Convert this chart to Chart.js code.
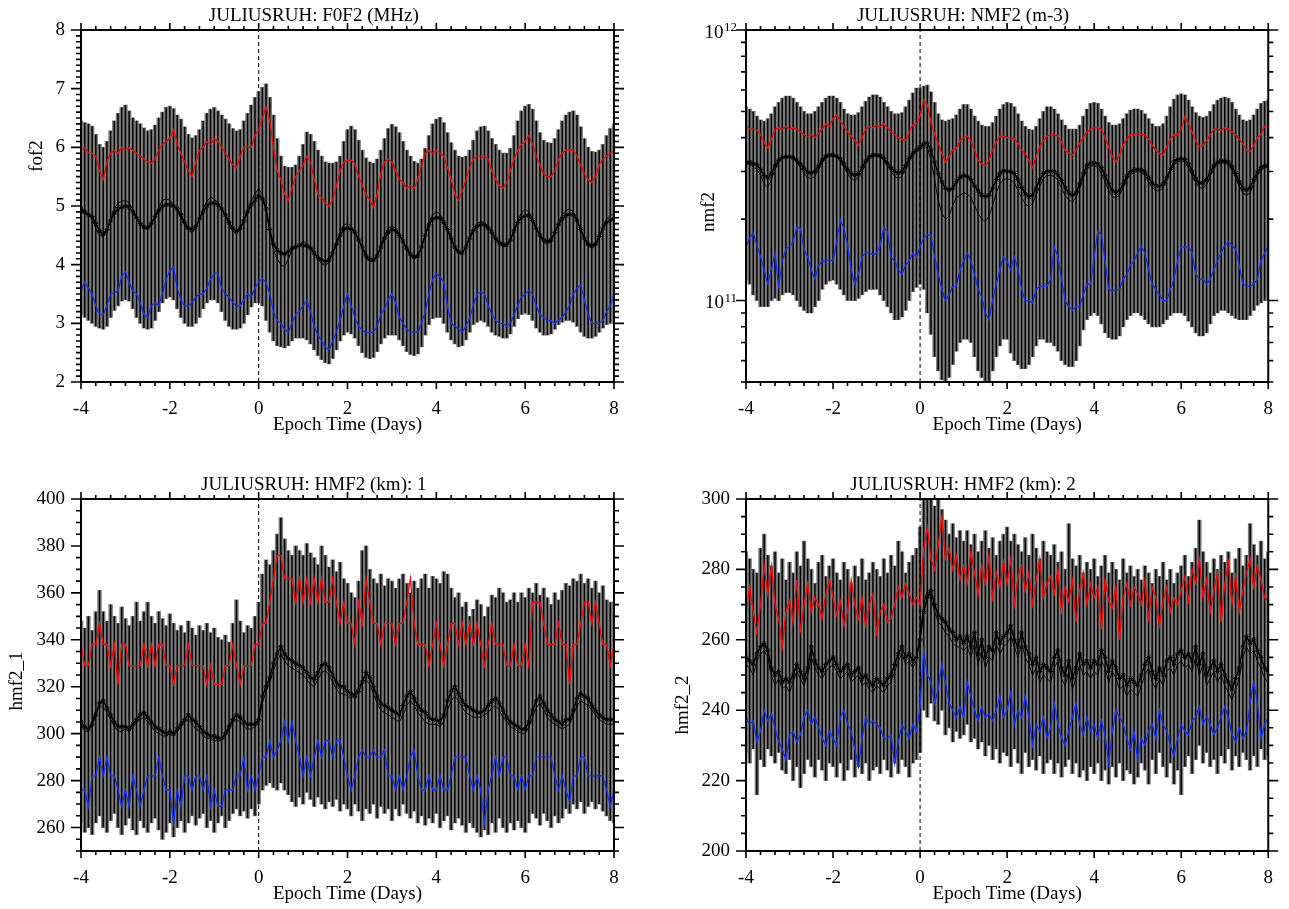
<!DOCTYPE html>
<html>
<head>
<meta charset="utf-8">
<title>Juliusruh superposed epoch</title>
<script src="https://cdn.jsdelivr.net/npm/chart.js@4.4.1/dist/chart.umd.min.js"></script>
<style>
  html, body { margin: 0; padding: 0; background: #fff; }
  #page { position: relative; width: 1289px; height: 909px; overflow: hidden; }
  #page canvas { position: absolute; }
</style>
</head>
<body>
<div id="page">
  <canvas id="c1" width="645" height="455" style="left:0;top:0"></canvas>
  <canvas id="c2" width="644" height="455" style="left:645px;top:0"></canvas>
  <canvas id="c3" width="645" height="454" style="left:0;top:455px"></canvas>
  <canvas id="c4" width="644" height="454" style="left:645px;top:455px"></canvas>
</div>
<script>
// epoch time, 2-hourly steps from day -4 to day +8
const epochDays = Array.from({ length: 145 }, (_, i) => -4 + i / 12);

// ---- foF2 (MHz) ----
const fof2Max = [
  6.45, 6.42, 6.40, 6.36, 6.22, 6.05, 6.00, 6.10, 6.28, 6.45, 6.58, 6.68,
  6.72, 6.62, 6.50, 6.45, 6.40, 6.33, 6.28, 6.30, 6.38, 6.50, 6.60, 6.68,
  6.70, 6.66, 6.55, 6.48, 6.35, 6.22, 6.16, 6.20, 6.30, 6.45, 6.58, 6.65,
  6.68, 6.62, 6.55, 6.48, 6.40, 6.32, 6.28, 6.30, 6.45, 6.58, 6.72, 6.85,
  6.95, 7.02, 7.08, 6.85, 6.55, 6.15, 5.85, 5.68, 5.66, 5.66, 5.70, 5.85,
  6.05, 6.26, 6.22, 6.10, 5.95, 5.85, 5.75, 5.73, 5.73, 5.75, 5.85, 6.10,
  6.30, 6.36, 6.30, 6.12, 5.95, 5.82, 5.75, 5.73, 5.80, 5.95, 6.15, 6.32,
  6.39, 6.35, 6.25, 6.10, 5.95, 5.85, 5.76, 5.73, 5.80, 5.98, 6.20, 6.40,
  6.48, 6.51, 6.42, 6.25, 6.08, 5.95, 5.85, 5.83, 5.85, 5.95, 6.12, 6.28,
  6.35, 6.36, 6.28, 6.15, 6.05, 5.95, 5.90, 5.90, 5.98, 6.20, 6.45, 6.62,
  6.70, 6.73, 6.65, 6.45, 6.25, 6.12, 6.08, 6.07, 6.15, 6.30, 6.45, 6.55,
  6.60, 6.62, 6.55, 6.35, 6.15, 6.00, 5.93, 5.92, 5.95, 6.05, 6.20, 6.32,
  6.39
];
const fof2Upper = [
  5.95, 6.00, 5.90, 5.90, 5.85, 5.60, 5.45, 5.75, 5.90, 5.95, 5.90, 6.00,
  5.95, 6.00, 5.95, 5.90, 5.85, 5.80, 5.75, 5.73, 5.80, 5.95, 6.05, 6.10,
  6.15, 6.30, 6.05, 5.90, 5.75, 5.60, 5.50, 5.75, 5.95, 6.00, 6.10, 6.05,
  6.15, 6.10, 6.00, 5.90, 5.80, 5.70, 5.65, 5.85, 6.00, 6.00, 6.00, 6.20,
  6.30, 6.50, 6.69, 6.45, 6.00, 5.60, 5.45, 5.20, 5.10, 5.30, 5.50, 5.60,
  5.70, 5.85, 5.75, 5.45, 5.20, 5.15, 5.05, 5.00, 5.10, 5.35, 5.60, 5.75,
  5.78, 5.78, 5.72, 5.50, 5.35, 5.20, 5.10, 4.98, 5.20, 5.55, 5.75, 5.80,
  5.75, 5.60, 5.45, 5.40, 5.30, 5.35, 5.30, 5.45, 5.70, 5.90, 5.95, 5.90,
  5.95, 5.90, 5.85, 5.65, 5.45, 5.20, 5.10, 5.25, 5.45, 5.65, 5.80, 5.85,
  5.85, 5.85, 5.80, 5.60, 5.45, 5.35, 5.30, 5.40, 5.60, 5.80, 5.95, 6.05,
  6.10, 6.20, 6.05, 5.85, 5.70, 5.55, 5.50, 5.50, 5.60, 5.80, 5.90, 5.95,
  5.95, 5.95, 5.85, 5.70, 5.55, 5.45, 5.40, 5.50, 5.70, 5.80, 5.85, 5.90,
  5.95
];
const fof2Median = [
  4.95, 4.90, 4.85, 4.82, 4.70, 4.58, 4.52, 4.60, 4.75, 4.88, 4.95, 4.98,
  5.00, 4.98, 4.90, 4.80, 4.70, 4.64, 4.63, 4.70, 4.82, 4.92, 5.00, 5.02,
  5.02, 5.00, 4.95, 4.85, 4.72, 4.62, 4.60, 4.65, 4.78, 4.90, 5.00, 5.05,
  5.05, 5.02, 4.95, 4.85, 4.72, 4.62, 4.57, 4.62, 4.75, 4.90, 5.02, 5.10,
  5.18, 5.12, 4.95, 4.60, 4.35, 4.25, 4.20, 4.18, 4.22, 4.28, 4.30, 4.33,
  4.33, 4.32, 4.28, 4.20, 4.12, 4.08, 4.05, 4.08, 4.20, 4.35, 4.50, 4.60,
  4.63, 4.60, 4.55, 4.42, 4.30, 4.15, 4.10, 4.08, 4.15, 4.30, 4.45, 4.55,
  4.60, 4.58, 4.50, 4.40, 4.28, 4.18, 4.13, 4.15, 4.30, 4.50, 4.68, 4.78,
  4.80, 4.80, 4.72, 4.60, 4.45, 4.30, 4.22, 4.20, 4.30, 4.45, 4.58, 4.65,
  4.69, 4.68, 4.62, 4.55, 4.45, 4.38, 4.35, 4.34, 4.42, 4.58, 4.72, 4.80,
  4.84, 4.83, 4.75, 4.62, 4.50, 4.42, 4.40, 4.42, 4.55, 4.68, 4.78, 4.84,
  4.86, 4.85, 4.75, 4.60, 4.45, 4.35, 4.33, 4.35, 4.48, 4.62, 4.72, 4.76,
  4.78
];
const fof2Mean = [
  4.90, 4.88, 4.86, 4.78, 4.62, 4.50, 4.48, 4.58, 4.78, 4.95, 5.05, 5.08,
  5.10, 5.05, 4.95, 4.82, 4.70, 4.62, 4.60, 4.68, 4.82, 4.98, 5.10, 5.12,
  5.10, 5.02, 4.92, 4.80, 4.68, 4.58, 4.55, 4.62, 4.78, 4.95, 5.08, 5.15,
  5.12, 5.05, 4.95, 4.82, 4.68, 4.58, 4.52, 4.60, 4.75, 4.95, 5.10, 5.20,
  5.30, 5.20, 4.95, 4.55, 4.25, 4.10, 4.00, 3.96, 4.10, 4.25, 4.30, 4.35,
  4.40, 4.36, 4.30, 4.20, 4.10, 4.02, 3.98, 4.05, 4.20, 4.38, 4.55, 4.68,
  4.70, 4.66, 4.56, 4.42, 4.28, 4.12, 4.05, 4.05, 4.15, 4.32, 4.50, 4.62,
  4.66, 4.62, 4.52, 4.40, 4.26, 4.15, 4.10, 4.14, 4.30, 4.52, 4.72, 4.85,
  4.90, 4.86, 4.75, 4.60, 4.42, 4.28, 4.18, 4.20, 4.32, 4.48, 4.62, 4.70,
  4.74, 4.72, 4.65, 4.55, 4.42, 4.35, 4.30, 4.32, 4.42, 4.60, 4.76, 4.88,
  4.95, 4.90, 4.78, 4.62, 4.48, 4.38, 4.35, 4.40, 4.55, 4.72, 4.85, 4.92,
  4.95, 4.90, 4.78, 4.60, 4.42, 4.32, 4.28, 4.32, 4.48, 4.65, 4.78, 4.84,
  4.86
];
const fof2Lower = [
  3.55, 3.70, 3.60, 3.50, 3.30, 3.15, 3.14, 3.30, 3.50, 3.52, 3.55, 3.80,
  3.88, 3.70, 3.55, 3.50, 3.35, 3.15, 3.10, 3.30, 3.35, 3.30, 3.50, 3.75,
  3.90, 3.96, 3.60, 3.40, 3.30, 3.30, 3.35, 3.45, 3.50, 3.50, 3.60, 3.75,
  3.85, 3.85, 3.60, 3.50, 3.45, 3.35, 3.30, 3.30, 3.40, 3.50, 3.45, 3.60,
  3.70, 3.76, 3.70, 3.50, 3.20, 3.05, 3.00, 2.90, 2.85, 3.00, 3.15, 3.20,
  3.30, 3.40, 3.20, 2.95, 2.80, 2.70, 2.60, 2.55, 2.70, 2.85, 3.05, 3.30,
  3.50, 3.30, 3.10, 2.95, 2.88, 2.84, 2.84, 2.85, 2.95, 3.15, 3.25, 3.40,
  3.50, 3.35, 3.10, 3.00, 2.90, 2.85, 2.85, 2.85, 3.00, 3.20, 3.50, 3.75,
  3.85, 3.80, 3.70, 3.30, 3.00, 2.95, 2.90, 2.85, 2.95, 3.10, 3.30, 3.50,
  3.53, 3.50, 3.30, 3.15, 3.05, 3.00, 3.00, 2.95, 3.00, 3.15, 3.30, 3.45,
  3.50, 3.56, 3.50, 3.30, 3.15, 3.10, 3.05, 3.05, 3.00, 3.05, 3.10, 3.20,
  3.30, 3.50, 3.60, 3.65, 3.40, 3.15, 3.00, 3.00, 3.00, 3.05, 3.20, 3.30,
  3.50
];
const fof2Min = [
  3.15, 3.10, 3.05, 3.00, 2.95, 2.92, 2.90, 2.95, 3.10, 3.22, 3.30, 3.38,
  3.40, 3.38, 3.25, 3.10, 3.00, 2.92, 2.90, 2.92, 3.05, 3.20, 3.35, 3.42,
  3.45, 3.40, 3.25, 3.10, 3.00, 2.95, 2.95, 3.00, 3.10, 3.25, 3.35, 3.40,
  3.40, 3.35, 3.20, 3.05, 2.95, 2.90, 2.90, 2.92, 3.00, 3.15, 3.28, 3.35,
  3.35, 3.30, 3.05, 2.85, 2.70, 2.62, 2.60, 2.58, 2.62, 2.70, 2.75, 2.75,
  2.75, 2.72, 2.65, 2.55, 2.45, 2.38, 2.33, 2.31, 2.40, 2.55, 2.70, 2.80,
  2.85, 2.82, 2.75, 2.62, 2.50, 2.42, 2.40, 2.42, 2.52, 2.65, 2.75, 2.80,
  2.80, 2.80, 2.72, 2.62, 2.52, 2.47, 2.45, 2.48, 2.60, 2.80, 2.98, 3.08,
  3.10, 3.10, 3.00, 2.85, 2.72, 2.65, 2.60, 2.62, 2.72, 2.85, 2.98, 3.02,
  3.05, 3.02, 2.95, 2.85, 2.80, 2.78, 2.75, 2.75, 2.82, 2.95, 3.08, 3.15,
  3.17, 3.15, 3.05, 2.92, 2.85, 2.80, 2.80, 2.82, 2.90, 2.98, 3.02, 3.05,
  3.05, 3.02, 2.95, 2.85, 2.78, 2.75, 2.75, 2.78, 2.85, 2.92, 2.98, 3.00,
  3.00
];

// ---- NmF2, in units of 1e11 m-3 ----
const nmf2Max = [
  5.20, 5.10, 5.00, 4.80, 4.65, 4.60, 4.70, 4.90, 5.20, 5.40, 5.60, 5.70,
  5.70, 5.60, 5.40, 5.20, 5.00, 4.90, 4.90, 5.00, 5.20, 5.40, 5.60, 5.70,
  5.70, 5.60, 5.40, 5.10, 4.90, 4.85, 4.85, 4.95, 5.20, 5.45, 5.65, 5.75,
  5.75, 5.65, 5.40, 5.20, 5.00, 4.90, 4.90, 4.95, 5.20, 5.50, 5.85, 6.10,
  6.10, 6.20, 6.25, 5.90, 5.40, 4.90, 4.65, 4.60, 4.65, 4.70, 4.85, 5.10,
  5.30, 5.30, 5.10, 4.80, 4.60, 4.45, 4.40, 4.40, 4.55, 4.80, 5.10, 5.30,
  5.40, 5.35, 5.20, 4.90, 4.60, 4.40, 4.30, 4.27, 4.40, 4.70, 5.00, 5.20,
  5.20, 5.10, 4.90, 4.65, 4.45, 4.30, 4.30, 4.30, 4.45, 4.80, 5.10, 5.35,
  5.40, 5.35, 5.10, 4.80, 4.55, 4.45, 4.45, 4.50, 4.70, 4.90, 5.05, 5.10,
  5.10, 5.05, 4.90, 4.70, 4.50, 4.40, 4.40, 4.50, 4.80, 5.20, 5.55, 5.75,
  5.80, 5.75, 5.50, 5.20, 4.95, 4.80, 4.75, 4.80, 5.00, 5.30, 5.50, 5.60,
  5.65, 5.60, 5.40, 5.10, 4.85, 4.65, 4.60, 4.65, 4.85, 5.10, 5.35, 5.45,
  5.50
];
const nmf2Upper = [
  4.45, 4.30, 4.30, 4.27, 4.10, 3.85, 3.66, 3.95, 4.30, 4.35, 4.30, 4.40,
  4.30, 4.35, 4.30, 4.20, 4.10, 4.05, 4.10, 4.00, 4.15, 4.30, 4.50, 4.40,
  4.70, 4.85, 4.60, 4.40, 4.20, 4.05, 3.90, 3.75, 4.00, 4.30, 4.40, 4.35,
  4.45, 4.40, 4.50, 4.35, 4.20, 4.10, 4.00, 3.95, 3.90, 4.20, 4.45, 4.50,
  4.80, 5.50, 5.30, 4.60, 4.10, 3.80, 3.50, 3.25, 3.40, 3.60, 3.65, 3.90,
  4.00, 4.05, 3.90, 3.60, 3.30, 3.20, 3.15, 3.30, 3.60, 3.85, 4.05, 4.05,
  4.00, 4.00, 3.95, 3.80, 3.60, 3.50, 3.30, 3.10, 3.40, 3.70, 3.90, 4.05,
  4.10, 4.10, 4.05, 3.85, 3.60, 3.50, 3.45, 3.60, 3.80, 4.00, 4.20, 4.30,
  4.35, 4.35, 4.30, 4.00, 3.70, 3.40, 3.25, 3.45, 3.75, 3.95, 4.10, 4.10,
  4.15, 4.10, 4.10, 3.95, 3.75, 3.60, 3.50, 3.45, 3.70, 3.95, 4.10, 4.10,
  4.30, 4.78, 4.50, 4.20, 3.90, 3.70, 3.75, 3.90, 4.10, 4.30, 4.30, 4.25,
  4.35, 4.30, 4.20, 4.10, 3.95, 3.80, 3.60, 3.55, 3.75, 4.00, 4.10, 4.40,
  4.40
];
const nmf2Median = [
  3.23, 3.25, 3.20, 3.18, 3.05, 2.90, 2.84, 2.95, 3.15, 3.30, 3.38, 3.40,
  3.40, 3.38, 3.30, 3.20, 3.08, 2.98, 2.96, 3.00, 3.15, 3.30, 3.42, 3.45,
  3.45, 3.42, 3.35, 3.20, 3.05, 2.95, 2.90, 2.95, 3.10, 3.28, 3.40, 3.45,
  3.45, 3.43, 3.35, 3.22, 3.10, 3.00, 2.96, 3.00, 3.15, 3.35, 3.50, 3.60,
  3.70, 3.80, 3.82, 3.60, 3.25, 2.95, 2.75, 2.60, 2.56, 2.60, 2.75, 2.85,
  2.90, 2.88, 2.80, 2.65, 2.55, 2.45, 2.42, 2.45, 2.60, 2.80, 2.95, 3.02,
  3.00, 3.00, 2.95, 2.80, 2.62, 2.48, 2.42, 2.45, 2.60, 2.80, 2.95, 3.00,
  3.00, 3.00, 2.92, 2.78, 2.62, 2.50, 2.45, 2.50, 2.70, 2.95, 3.15, 3.23,
  3.23, 3.20, 3.10, 2.90, 2.70, 2.55, 2.50, 2.55, 2.70, 2.88, 3.00, 3.05,
  3.05, 3.05, 2.98, 2.85, 2.72, 2.65, 2.65, 2.70, 2.85, 3.05, 3.25, 3.32,
  3.35, 3.32, 3.20, 3.00, 2.82, 2.72, 2.72, 2.80, 2.98, 3.15, 3.25, 3.28,
  3.28, 3.25, 3.12, 2.95, 2.75, 2.60, 2.56, 2.62, 2.80, 2.98, 3.10, 3.15,
  3.17
];
const nmf2Mean = [
  3.20, 3.20, 3.12, 3.05, 2.90, 2.70, 2.62, 2.80, 3.05, 3.25, 3.35, 3.38,
  3.38, 3.35, 3.25, 3.10, 2.95, 2.85, 2.82, 2.88, 3.05, 3.25, 3.38, 3.42,
  3.42, 3.38, 3.30, 3.12, 2.95, 2.82, 2.78, 2.85, 3.00, 3.20, 3.35, 3.42,
  3.42, 3.40, 3.30, 3.15, 3.00, 2.88, 2.82, 2.88, 3.05, 3.28, 3.45, 3.55,
  3.62, 3.70, 3.68, 3.30, 2.80, 2.35, 2.10, 2.00, 2.05, 2.25, 2.40, 2.45,
  2.50, 2.48, 2.40, 2.25, 2.10, 2.00, 1.96, 2.05, 2.25, 2.50, 2.70, 2.80,
  2.82, 2.80, 2.72, 2.55, 2.40, 2.28, 2.22, 2.28, 2.45, 2.65, 2.82, 2.90,
  2.90, 2.88, 2.78, 2.60, 2.45, 2.35, 2.32, 2.40, 2.60, 2.85, 3.05, 3.15,
  3.15, 3.10, 2.95, 2.75, 2.55, 2.42, 2.40, 2.45, 2.62, 2.80, 2.92, 2.98,
  3.00, 2.98, 2.90, 2.75, 2.62, 2.55, 2.55, 2.60, 2.78, 3.00, 3.18, 3.25,
  3.28, 3.25, 3.10, 2.90, 2.72, 2.62, 2.60, 2.68, 2.88, 3.08, 3.20, 3.22,
  3.22, 3.18, 3.05, 2.85, 2.65, 2.50, 2.45, 2.50, 2.70, 2.90, 3.02, 3.10,
  3.12
];
const nmf2Lower = [
  1.58, 1.70, 1.78, 1.60, 1.45, 1.30, 1.15, 1.30, 1.50, 1.13, 1.40, 1.55,
  1.58, 1.65, 1.87, 1.85, 1.55, 1.45, 1.30, 1.20, 1.35, 1.40, 1.40, 1.42,
  1.40, 1.65, 1.99, 1.85, 1.60, 1.30, 1.15, 1.25, 1.45, 1.50, 1.50, 1.48,
  1.50, 1.60, 1.87, 1.80, 1.45, 1.40, 1.30, 1.25, 1.35, 1.40, 1.50, 1.45,
  1.58, 1.70, 1.75, 1.75, 1.45, 1.25, 1.10, 1.00, 1.05, 1.13, 1.13, 1.30,
  1.40, 1.50, 1.40, 1.25, 1.10, 1.03, 0.90, 0.85, 1.00, 1.15, 1.30, 1.45,
  1.40, 1.30, 1.45, 1.30, 1.10, 1.00, 1.00, 0.98, 1.10, 1.13, 1.13, 1.13,
  1.20, 1.58, 1.45, 1.20, 1.00, 0.95, 0.92, 0.95, 0.95, 1.05, 1.15, 1.15,
  1.45, 1.80, 1.75, 1.40, 1.10, 1.08, 1.10, 1.10, 1.20, 1.25, 1.35, 1.40,
  1.50, 1.58, 1.50, 1.30, 1.15, 1.10, 1.05, 1.00, 1.00, 1.10, 1.20, 1.40,
  1.58, 1.58, 1.58, 1.50, 1.25, 1.20, 1.20, 1.15, 1.20, 1.30, 1.40, 1.50,
  1.60, 1.65, 1.60, 1.55, 1.35, 1.15, 1.13, 1.13, 1.15, 1.20, 1.40, 1.50,
  1.58
];
const nmf2Min = [
  1.20, 1.15, 1.05, 1.00, 0.95, 0.95, 0.95, 1.00, 1.02, 1.00, 1.05, 1.07,
  1.07, 1.05, 1.00, 0.95, 0.92, 0.90, 0.90, 0.95, 1.00, 1.10, 1.15, 1.18,
  1.19, 1.15, 1.10, 1.05, 1.00, 1.00, 1.00, 1.02, 1.05, 1.08, 1.10, 1.10,
  1.10, 1.05, 1.00, 0.95, 0.90, 0.85, 0.85, 0.87, 0.92, 1.00, 1.08, 1.12,
  1.15, 1.10, 0.90, 0.75, 0.62, 0.55, 0.51, 0.50, 0.52, 0.58, 0.65, 0.70,
  0.72, 0.72, 0.70, 0.62, 0.55, 0.52, 0.50, 0.50, 0.55, 0.62, 0.68, 0.72,
  0.72, 0.64, 0.60, 0.58, 0.56, 0.56, 0.58, 0.62, 0.68, 0.72, 0.72, 0.70,
  0.70, 0.68, 0.65, 0.60, 0.58, 0.57, 0.57, 0.60, 0.68, 0.78, 0.85, 0.88,
  0.90, 0.88, 0.82, 0.76, 0.73, 0.72, 0.72, 0.74, 0.80, 0.85, 0.88, 0.90,
  0.90, 0.88, 0.85, 0.82, 0.80, 0.80, 0.80, 0.82, 0.85, 0.88, 0.90, 0.90,
  0.90, 0.88, 0.84, 0.80, 0.76, 0.74, 0.74, 0.76, 0.82, 0.88, 0.90, 0.92,
  0.92, 0.90, 0.88, 0.86, 0.85, 0.85, 0.85, 0.88, 0.92, 0.96, 0.98, 1.00,
  1.00
];

// ---- hmF2 set 1 (km) ----
const hmf1Max = [
  348, 345, 350, 344, 352, 361, 352, 348, 355, 350, 347, 354,
  349, 346, 350, 356, 348, 352, 356, 350, 347, 352, 349, 346,
  351, 347, 344, 346, 343, 348, 345, 342, 346, 344, 347, 343,
  345, 341, 340, 342, 339, 347, 357, 348, 343, 346, 345, 350,
  356, 368, 374, 372, 378, 385, 392, 383, 378, 376, 380, 378,
  376, 381, 377, 375, 372, 380, 376, 371, 374, 369, 373, 366,
  364, 360, 358, 365, 378, 380, 370, 366, 364, 368, 363, 366,
  365, 362, 366, 368, 364, 360, 365, 362, 366, 368, 362, 367,
  366, 364, 369, 368, 362, 358, 360, 354, 356, 350, 353, 357,
  355, 350, 354, 359, 358, 362, 360, 356, 357, 360, 356, 360,
  358, 362, 360, 364, 359, 362, 358, 355, 360, 357, 361, 364,
  363, 366, 365, 368, 364, 366, 362, 365, 360, 363, 357, 356,
  356
];
const hmf1Upper = [
  338, 329, 329, 338, 338, 347, 338, 338, 329, 338, 321, 338,
  338, 329, 329, 329, 329, 338, 329, 338, 329, 338, 338, 329,
  329, 321, 329, 329, 329, 338, 329, 329, 329, 329, 321, 329,
  321, 321, 321, 329, 329, 338, 329, 321, 329, 329, 329, 338,
  338, 347, 347, 356, 366, 376, 376, 366, 366, 366, 356, 366,
  356, 366, 356, 366, 356, 366, 356, 356, 366, 356, 347, 356,
  347, 347, 338, 356, 347, 366, 356, 347, 347, 338, 347, 347,
  347, 338, 347, 347, 356, 366, 347, 338, 338, 338, 329, 338,
  347, 338, 329, 338, 347, 347, 338, 347, 338, 347, 338, 347,
  338, 329, 338, 347, 338, 338, 338, 329, 329, 338, 329, 329,
  338, 329, 356, 356, 356, 347, 338, 338, 338, 347, 338, 338,
  321, 338, 338, 347, 356, 356, 347, 356, 347, 338, 338, 329,
  338
];
const hmf1Median = [
  305, 303, 302, 304, 308, 313, 314, 311, 308, 305, 303, 303,
  303, 302, 304, 306, 308, 309, 307, 305, 303, 302, 301, 300,
  301, 300, 302, 304, 306, 308, 306, 305, 303, 301, 300, 299,
  299, 298, 298, 300, 303, 306, 308, 307, 305, 304, 304, 304,
  306, 316, 320, 324, 330, 334, 337, 334, 332, 331, 330, 329,
  328, 326, 324, 323, 326, 329, 330, 328, 325, 322, 320, 320,
  318, 317, 316, 318, 322, 326, 324, 320, 316, 313, 312, 311,
  310, 309, 308, 312, 316, 318, 315, 312, 310, 309, 307, 306,
  306, 305, 308, 314, 318, 320, 317, 314, 312, 311, 310, 309,
  309, 310, 312, 314, 315, 313, 310, 307, 305, 304, 303, 302,
  302, 305, 310, 314, 316, 313, 310, 308, 306, 305, 304, 306,
  306, 310, 315, 317, 316, 315, 312, 310, 308, 307, 306, 306,
  306
];
const hmf1Mean = [
  304, 301, 301, 305, 310, 312, 311, 309, 306, 303, 301, 301,
  302, 301, 303, 305, 306, 307, 305, 303, 301, 300, 299, 299,
  300, 299, 301, 303, 305, 306, 304, 302, 301, 299, 298, 298,
  297, 297, 297, 299, 302, 305, 306, 305, 303, 302, 302, 303,
  305, 313, 318, 322, 327, 331, 334, 331, 329, 328, 327, 326,
  325, 323, 321, 320, 323, 326, 327, 325, 322, 319, 317, 317,
  316, 315, 317, 320, 322, 323, 321, 317, 313, 310, 309, 308,
  307, 306, 305, 308, 312, 314, 312, 309, 307, 305, 304, 304,
  304, 303, 305, 310, 314, 316, 314, 311, 309, 308, 307, 307,
  307, 308, 309, 311, 312, 310, 307, 305, 303, 302, 301, 300,
  300, 303, 307, 311, 313, 310, 307, 305, 304, 303, 302, 303,
  304, 308, 312, 314, 313, 312, 310, 308, 306, 305, 304, 304,
  304
];
const hmf1Lower = [
  276, 276, 269, 282, 282, 290, 282, 290, 282, 282, 276, 269,
  276, 269, 282, 276, 269, 276, 282, 282, 282, 290, 282, 276,
  276, 262, 276, 269, 282, 282, 276, 282, 282, 276, 282, 269,
  276, 269, 269, 276, 276, 276, 282, 282, 290, 276, 282, 276,
  282, 290, 290, 297, 290, 293, 297, 305, 297, 305, 297, 290,
  282, 290, 282, 290, 297, 290, 297, 297, 290, 297, 297, 290,
  282, 276, 282, 290, 293, 290, 290, 293, 290, 290, 293, 282,
  282, 276, 282, 276, 282, 290, 293, 282, 276, 276, 282, 276,
  276, 282, 276, 276, 282, 290, 290, 290, 290, 282, 276, 282,
  276, 262, 276, 282, 290, 282, 290, 290, 282, 282, 276, 282,
  276, 282, 282, 290, 290, 290, 290, 290, 282, 276, 282, 276,
  271, 282, 282, 290, 290, 282, 282, 282, 282, 282, 276, 269,
  276
];
const hmf1Min = [
  262, 258, 260, 257, 262, 265, 260, 258, 263, 266, 260, 257,
  261, 264, 259, 257, 263, 260, 258, 262, 264, 259, 255, 258,
  262, 256, 260, 263, 258, 262, 265, 261, 264, 266, 260, 263,
  258, 262, 265, 260, 263, 266, 268, 265, 267, 264, 268, 265,
  270, 276, 278, 279, 277, 276, 279, 276, 274, 271, 269, 273,
  270, 275, 272, 269, 273, 270, 268, 271, 269, 272, 267, 270,
  268, 265, 270, 267, 263, 268, 266, 270, 264, 269, 266, 268,
  263, 268, 265, 270, 266, 264, 267, 262, 265, 261, 264, 262,
  266, 260, 263, 265, 259, 262, 264, 261, 258, 262, 260, 258,
  256, 259, 257, 262, 258, 264, 260, 258, 262, 259, 263, 260,
  258, 262, 266, 264, 261, 266, 263, 260, 265, 262, 264, 268,
  266, 270, 268, 271, 266, 269, 271, 268, 270, 267, 265, 263,
  262
];

// ---- hmF2 set 2 (km) ----
const hmf2Max = [
  285, 283, 280, 279, 286, 290, 284, 281, 285, 279, 283, 277,
  282, 279, 285, 281, 288, 283, 280, 276, 282, 284, 278, 281,
  283, 279, 277, 282, 280, 276, 281, 278, 283, 277, 279, 282,
  280, 278, 283, 279, 284, 281, 288, 285, 279, 282, 284, 286,
  292, 302, 300, 303, 298, 301, 297, 294, 290, 293, 289, 291,
  288, 291, 287, 290, 285, 288, 291, 286, 289, 284, 288, 290,
  292, 288, 290, 287, 285, 289, 284, 290, 286, 283, 288, 285,
  284, 287, 282, 285, 280, 293, 283, 281, 284, 279, 282, 280,
  283, 278, 281, 284, 279, 282, 280, 277, 283, 279, 281, 278,
  280, 277, 281, 279, 276, 280, 278, 282, 277, 280, 276, 279,
  281, 284, 278, 282, 286, 294, 285, 282, 279, 283, 280, 284,
  282, 285, 279, 283, 286, 281, 284, 293, 287, 284, 288, 283,
  285
];
const hmf2Upper = [
  267, 275, 268, 262, 270, 281, 273, 281, 270, 266, 258, 268,
  271, 265, 277, 262, 270, 276, 268, 272, 270, 266, 273, 277,
  272, 267, 271, 264, 268, 277, 270, 266, 272, 264, 270, 273,
  262, 268, 270, 265, 266, 270, 275, 272, 276, 273, 270, 272,
  270, 286, 292, 283, 280, 287, 295, 283, 286, 280, 284, 277,
  281, 276, 285, 279, 273, 281, 276, 284, 272, 279, 275, 282,
  276, 283, 270, 278, 281, 274, 279, 270, 277, 283, 272, 276,
  278, 273, 280, 268, 275, 271, 277, 265, 274, 279, 270, 276,
  272, 275, 263, 277, 271, 269, 275, 260, 272, 276, 270, 275,
  273, 270, 277, 266, 275, 272, 264, 271, 275, 268, 272, 270,
  274, 278, 271, 280, 276, 283, 272, 277, 268, 274, 279, 265,
  276, 282, 270, 278, 268, 274, 279, 283, 275, 281, 277, 272,
  271
];
const hmf2Median = [
  255, 254, 253, 256, 258, 259, 257, 252, 250, 251, 248, 249,
  248, 250, 253, 251, 249, 252, 258, 254, 252, 251, 253, 254,
  255, 253, 251, 252, 253, 250, 251, 252, 249, 250, 248, 247,
  249, 248, 247, 249, 250, 253, 256, 258, 255, 256, 254, 255,
  260, 268, 272, 274, 270, 267, 266, 265, 263, 262, 260, 261,
  259, 261, 258, 262, 256, 260, 255, 258, 257, 262, 259, 261,
  262, 264, 260, 258, 262, 258, 256, 253, 255, 251, 253, 252,
  251, 255, 257, 252, 250, 254, 249, 252, 256, 253, 254, 252,
  254, 253, 257, 255, 251, 254, 252, 249, 250, 247, 249, 248,
  247, 250, 253, 255, 251, 249, 252, 250, 254, 255, 253, 256,
  257, 255, 256, 254, 258, 253, 256, 250, 252, 254, 251, 253,
  250, 248, 246, 249, 252, 258, 261, 259, 260, 257, 255, 252,
  251
];
const hmf2Mean = [
  253, 252, 250, 254, 256, 257, 255, 250, 247, 249, 246, 247,
  245, 248, 251, 249, 247, 250, 255, 252, 250, 249, 251, 252,
  253, 251, 249, 250, 251, 248, 249, 250, 247, 248, 246, 245,
  247, 246, 245, 247, 248, 251, 254, 256, 253, 254, 252, 254,
  262, 270, 274, 272, 268, 265, 264, 262, 261, 259, 258, 258,
  257, 258, 255, 259, 253, 257, 252, 255, 254, 259, 256, 258,
  259, 261, 258, 255, 259, 255, 253, 250, 252, 248, 250, 249,
  248, 252, 254, 249, 247, 251, 246, 249, 253, 250, 251, 249,
  251, 250, 254, 252, 248, 251, 249, 246, 247, 244, 246, 245,
  244, 247, 250, 252, 248, 246, 249, 247, 251, 252, 250, 253,
  254, 252, 253, 251, 255, 250, 253, 247, 249, 251, 248, 250,
  247, 245, 243, 246, 249, 255, 258, 256, 257, 254, 252, 249,
  248
];
const hmf2Lower = [
  238, 236, 237, 231, 234, 240, 237, 239, 235, 231, 229, 226,
  233, 234, 231, 233, 238, 240, 236, 238, 235, 232, 230, 234,
  232, 230, 238, 240, 236, 234, 229, 224, 232, 238, 236, 237,
  236, 235, 232, 232, 233, 225, 231, 236, 234, 232, 236, 234,
  241, 257, 250, 248, 242, 246, 253, 248, 242, 240, 238, 241,
  238, 248, 244, 240, 237, 241, 238, 239, 237, 240, 244, 238,
  240, 245, 236, 240, 238, 244, 238, 230, 236, 234, 238, 232,
  235, 242, 236, 232, 230, 234, 238, 242, 236, 233, 238, 234,
  236, 232, 237, 233, 225, 234, 240, 238, 236, 232, 229, 234,
  226, 232, 230, 234, 236, 232, 240, 236, 234, 230, 227, 232,
  236, 234, 233, 237, 238, 241, 236, 238, 236, 233, 235, 238,
  241, 238, 233, 231, 235, 232, 234, 242, 248, 242, 232, 236,
  238
];
const hmf2Min = [
  228, 225, 229, 216, 226, 224, 229, 227, 225, 228, 223, 222,
  226, 220, 224, 218, 222, 226, 224, 221, 226, 223, 220, 225,
  224, 221, 225, 220, 223, 226, 221, 224, 222, 225, 220, 223,
  224, 222, 226, 223, 221, 225, 222, 226, 224, 221, 225, 226,
  228, 240, 238, 242, 237, 236, 240, 233, 235, 231, 234, 232,
  233, 236, 231, 232, 229, 231, 227, 230, 226, 229, 225, 228,
  227, 224, 229, 225, 222, 228, 224, 226, 223, 227, 222, 225,
  226, 222, 225, 221, 224, 226, 222, 225, 221, 223, 220, 224,
  222, 225, 220, 223, 219, 224, 221, 225, 220, 223, 222, 219,
  221, 225, 223, 219, 226, 222, 228, 224, 221, 225, 219, 223,
  216, 224, 227, 222, 226, 230, 225, 228, 224, 226, 222, 227,
  225, 229, 223, 227, 224, 228, 226, 223, 227, 224, 229, 226,
  227
];

const FONT = "'Liberation Serif', 'Times New Roman', serif";
Chart.defaults.font.family = FONT;
Chart.defaults.font.size = 19;
Chart.defaults.color = '#000';

function points(vals, unit) {
  return vals.map((v, i) => ({ x: epochDays[i], y: v * unit }));
}
function spans(lo, hi, unit) {
  return lo.map((v, i) => ({ x: epochDays[i], y: [v * unit, hi[i] * unit] }));
}
function steps(from, to, step) {
  const out = [];
  for (let v = from; v <= to + 1e-9; v += step) out.push(Math.round(v * 1000) / 1000);
  return out;
}

const xMajorTicks = steps(-4, 8, 2);
const xMinorTicks = steps(-4, 8, 1 / 3);

// frame, outward tick marks, panel title, y title and (for the log panel) power-of-ten labels
function panelDecor(cfg) {
  return {
    id: 'panelDecor',
    afterDatasetsDraw(chart) {
      const { ctx, chartArea: a } = chart;
      const xs = chart.scales.x, ys = chart.scales.y;
      ctx.save();
      ctx.strokeStyle = '#000';
      ctx.lineWidth = 1.6;
      ctx.beginPath();
      const xt = (v, len) => {
        const p = xs.getPixelForValue(v);
        ctx.moveTo(p, a.top); ctx.lineTo(p, a.top - len);
        ctx.moveTo(p, a.bottom); ctx.lineTo(p, a.bottom + len);
      };
      const yt = (v, len) => {
        const p = ys.getPixelForValue(v);
        ctx.moveTo(a.left, p); ctx.lineTo(a.left - len, p);
        ctx.moveTo(a.right, p); ctx.lineTo(a.right + len, p);
      };
      xMinorTicks.forEach(v => xt(v, 4));
      xMajorTicks.forEach(v => xt(v, 7));
      cfg.yMinor.forEach(v => yt(v, 5));
      cfg.yMajor.forEach(v => yt(v, 10));
      ctx.stroke();
      ctx.lineWidth = 2;
      ctx.strokeRect(a.left, a.top, a.right - a.left, a.bottom - a.top);

      ctx.fillStyle = '#000';
      if (cfg.powerLabels) {
        cfg.powerLabels.forEach(([value, exp]) => {
          const py = ys.getPixelForValue(value);
          ctx.font = '13px ' + FONT;
          ctx.textAlign = 'right';
          ctx.textBaseline = 'alphabetic';
          const expRight = a.left - 9;
          ctx.fillText(exp, expRight, py + 1);
          const expW = ctx.measureText(exp).width;
          ctx.font = '19px ' + FONT;
          ctx.fillText('10', expRight - expW - 0.5, py + 7.5);
        });
      }

      ctx.font = '19px ' + FONT;
      ctx.textAlign = 'center';
      ctx.textBaseline = 'alphabetic';
      ctx.fillText(cfg.title, cfg.titleX, a.top - 9.5);
      ctx.translate(cfg.yTitleX, cfg.yTitleY);
      ctx.rotate(-Math.PI / 2);
      ctx.textBaseline = 'middle';
      ctx.fillText(cfg.yTitle, 0, 0);
      ctx.restore();
    }
  };
}

function makePanel(id, cfg) {
  const canvas = document.getElementById(id);
  const W = canvas.width, H = canvas.height;
  const u = cfg.unit || 1;
  new Chart(canvas, {
    type: 'bar',
    data: {
      datasets: [
        { type: 'line', label: 'median', data: points(cfg.median, u), borderColor: '#000', borderWidth: 1.5,
          pointStyle: 'star', pointRadius: 2.6, pointBorderWidth: 0.9, pointBorderColor: '#000', order: 0 },
        { type: 'line', label: 'upper quartile', data: points(cfg.upper, u), borderColor: '#ff0000', borderWidth: 1.3,
          pointRadius: 0, order: 1 },
        { type: 'line', label: 'lower quartile', data: points(cfg.lower, u), borderColor: '#1030ff', borderWidth: 1.3,
          pointRadius: 0, order: 1 },
        { type: 'line', label: 'mean', data: points(cfg.mean, u), borderColor: '#000', borderWidth: 0.9,
          pointRadius: 0, order: 2 },
        { type: 'line', label: 'epoch', data: [{ x: 0, y: cfg.yMin }, { x: 0, y: cfg.yMax }], borderColor: '#000',
          borderWidth: 1, borderDash: [4, 3], pointRadius: 0, order: 3 },
        // non-grouped bars ignore barThickness, so the thin black stroke is capped with maxBarThickness
        { label: 'range', data: spans(cfg.min, cfg.max, u), backgroundColor: '#000', maxBarThickness: 1.5,
          grouped: false, order: 4 },
        { label: 'range', data: spans(cfg.min, cfg.max, u), backgroundColor: '#7c7c7c', barPercentage: 1,
          categoryPercentage: 1, inflateAmount: 0.4, grouped: false, order: 5 }
      ]
    },
    options: {
      responsive: false,
      animation: false,
      events: [],
      layout: { padding: { left: 0, top: cfg.area.top, right: W - cfg.area.right, bottom: 0 } },
      plugins: { legend: { display: false }, tooltip: { enabled: false } },
      scales: {
        x: {
          type: 'linear', min: -4, max: 8, offset: false,
          grid: { display: false, drawTicks: false }, border: { display: false },
          ticks: { padding: 16, maxRotation: 0, autoSkip: false, color: '#000', font: { size: 19 } },
          afterBuildTicks: sc => { sc.ticks = xMajorTicks.map(v => ({ value: v })); },
          afterFit: sc => { sc.height = H - cfg.area.bottom; },
          title: { display: true, text: 'Epoch Time (Days)', color: '#000', font: { size: 19 },
                   padding: { top: 0, bottom: cfg.xTitlePad } }
        },
        y: {
          type: cfg.log ? 'logarithmic' : 'linear', min: cfg.yMin, max: cfg.yMax,
          grid: { display: false, drawTicks: false }, border: { display: false },
          ticks: { display: !cfg.powerLabels, padding: cfg.yTickPad, autoSkip: false, color: '#000',
                   font: { size: 19 }, callback: v => String(v) },
          afterBuildTicks: sc => { sc.ticks = cfg.yLabels.map(v => ({ value: v })); },
          afterFit: sc => { sc.width = cfg.area.left; }
        }
      }
    },
    plugins: [panelDecor(cfg)]
  });
}

const logMinor = [];
[1e10, 1e11].forEach(dec => { for (let m = 1; m <= 9; m++) { const v = m * dec; if (v >= 5e10) logMinor.push(v); } });
logMinor.push(1e12);

makePanel('c1', {
  area: { left: 81, top: 30, right: 614, bottom: 382 },
  title: 'JULIUSRUH: F0F2 (MHz)', titleX: 313.8, yTitle: 'fof2', yTitleX: 37, yTitleY: 156,
  yMin: 2, yMax: 8, yLabels: steps(2, 8, 1), yMajor: steps(2, 8, 1), yMinor: steps(2, 8, 0.1),
  yTickPad: 16, xTitlePad: 18.4,
  max: fof2Max, upper: fof2Upper, median: fof2Median, mean: fof2Mean, lower: fof2Lower, min: fof2Min
});

makePanel('c2', {
  area: { left: 101, top: 30, right: 634, bottom: 382 },
  title: 'JULIUSRUH: NMF2 (m-3)', titleX: 318, yTitle: 'nmf2', yTitleX: 64, yTitleY: 212,
  log: true, unit: 1e11, yMin: 5e10, yMax: 1e12, yLabels: [1e11, 1e12], yMajor: [1e11, 1e12], yMinor: logMinor,
  powerLabels: [[1e11, '11'], [1e12, '12']],
  yTickPad: 9, xTitlePad: 18.4,
  max: nmf2Max, upper: nmf2Upper, median: nmf2Median, mean: nmf2Mean, lower: nmf2Lower, min: nmf2Min
});

makePanel('c3', {
  area: { left: 81, top: 44, right: 614, bottom: 396 },
  title: 'JULIUSRUH: HMF2 (km): 1', titleX: 313.8, yTitle: 'hmf2_1', yTitleX: 17.5, yTitleY: 226,
  yMin: 250, yMax: 400, yLabels: steps(260, 400, 20), yMajor: steps(260, 400, 20), yMinor: steps(250, 400, 5),
  yTickPad: 16, xTitlePad: 3.7,
  max: hmf1Max, upper: hmf1Upper, median: hmf1Median, mean: hmf1Mean, lower: hmf1Lower, min: hmf1Min
});

makePanel('c4', {
  area: { left: 101, top: 44, right: 634, bottom: 396 },
  title: 'JULIUSRUH: HMF2 (km): 2', titleX: 318, yTitle: 'hmf2_2', yTitleX: 38, yTitleY: 250,
  yMin: 200, yMax: 300, yLabels: steps(200, 300, 20), yMajor: steps(200, 300, 20), yMinor: steps(200, 300, 5),
  yTickPad: 16, xTitlePad: 3.7,
  max: hmf2Max, upper: hmf2Upper, median: hmf2Median, mean: hmf2Mean, lower: hmf2Lower, min: hmf2Min
});
</script>
</body>
</html>
